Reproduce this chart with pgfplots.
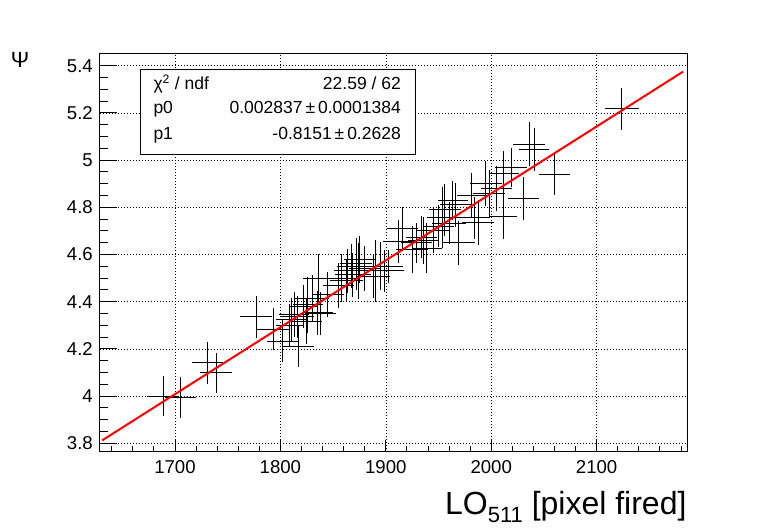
\documentclass[border=0pt]{standalone}
\usepackage{fontspec}
\setmainfont{Liberation Sans}
\usepackage{pgfplots}
\pgfplotsset{compat=1.18}
\usepackage{pgfplotstable}

\pgfplotstableread{
x y ex ey
1689 4.000 15.2 0.085
1705 3.993 14.6 0.087
1731 4.140 14.6 0.088
1739 4.098 14.9 0.085
1777 4.336 15.0 0.089
1793 4.284 14.8 0.089
1802 4.233 14.6 0.088
1817 4.212 14.8 0.088
1809 4.300 13.5 0.090
1811 4.325 15.0 0.092
1816 4.336 16.0 0.090
1813 4.345 14.0 0.095
1825 4.315 14.5 0.095
1835 4.352 14.5 0.092
1826 4.386 14.5 0.120
1830 4.414 16.0 0.100
1822 4.380 14.0 0.090
1838 4.350 14.8 0.092
1836 4.500 14.5 0.100
1845 4.430 15.0 0.095
1855 4.470 15.0 0.095
1858 4.500 15.0 0.100
1863 4.488 15.8 0.090
1864 4.530 13.0 0.095
1867.6 4.551 14.3 0.092
1868.6 4.513 17.0 0.092
1872 4.560 15.0 0.110
1875 4.580 15.0 0.100
1874 4.530 14.0 0.120
1880 4.540 15.0 0.095
1888 4.506 15.8 0.090
1890 4.530 14.0 0.130
1894.5 4.551 15.8 0.100
1898.7 4.530 19.0 0.090
1903 4.550 13.0 0.070
1912 4.654 14.5 0.090
1916 4.710 15.0 0.092
1925 4.620 15.0 0.100
1929 4.649 14.5 0.085
1934 4.673 14.5 0.090
1935.5 4.660 14.5 0.100
1939 4.627 14.5 0.105
1945 4.700 15.0 0.095
1950 4.720 15.0 0.090
1954 4.757 15.0 0.130
1956 4.790 15.0 0.110
1960 4.733 15.8 0.090
1963.5 4.828 14.3 0.082
1966 4.810 15.0 0.095
1969 4.649 15.8 0.092
1981.5 4.852 14.3 0.092
1983.7 4.755 15.0 0.090
1987.5 4.735 15.0 0.095
1995 4.900 15.0 0.095
1998 4.860 15.0 0.100
2005 4.880 15.0 0.095
2011.5 4.760 13.0 0.095
2012 4.944 14.3 0.095
2019 4.968 15.0 0.082
2030.5 4.838 14.8 0.090
2036 5.067 15.0 0.093
2040.6 5.046 14.3 0.092
2060 4.940 14.9 0.090
2124 5.217 16.0 0.090
}\datatable

\pgfplotstableread{
x y
1631 3.812
2182 5.375
}\fittable

\begin{document}
\begin{tikzpicture}[x=1pt,y=1pt]
\path[use as bounding box] (0,0) rectangle (764,532);
\pgfplotsset{
  rootframe/.style={
    at={(99.5pt,80.3pt)}, anchor=south west,
    width=587.5pt, height=398.7pt, scale only axis,
    xmin=1628.4, xmax=2185.7, ymin=3.764, ymax=5.454,
    axis line style={black, line width=0.9pt},
    tick style={black, line width=0.9pt},
    tick align=inside,
    xtick pos=bottom, ytick pos=left,
    /pgf/number format/assume math mode=true,
    tick label style={font=\fontsize{18.6}{20}\selectfont},
  }
}
\begin{axis}[rootframe,
  xtick={1700,1800,1900,2000,2100},
  minor xtick={1640,1660,...,2180},
  ytick={3.8,4,4.2,4.4,4.6,4.8,5,5.2,5.4},
  yticklabels={3.8,4,4.2,4.4,4.6,4.8,5,5.2,5.4},
  xticklabels={1700,1800,1900,2000,2100},
  minor ytick={3.8,3.85,...,5.45},
  major tick length=12pt, minor tick length=6pt,
  xmajorgrids, ymajorgrids,
  major grid style={black, line width=0.6pt, dash pattern=on 0.8pt off 2.2pt},
  xticklabel style={inner sep=0pt, anchor=north},
  xticklabel shift=8.3pt,
  yticklabel style={inner sep=0pt, anchor=east},
  yticklabel shift=6.5pt,
]
\addplot[only marks, mark=*, mark size=0pt, draw=black,
  error bars/.cd, x dir=both, x explicit, y dir=both, y explicit,
  error mark=none, error bar style={black, line width=1pt}]
  table[x=x, y=y, x error=ex, y error=ey] {\datatable};
\addplot[red, line width=2pt] table[x=x, y=y] {\fittable};
\end{axis}
\begin{axis}[rootframe,
  xtick=\empty, minor xtick={},
  ytick={3.8,4,4.2,4.4,4.6,4.8,5,5.2,5.4},
  yticklabels={},
  minor ytick={3.8,3.85,...,5.45},
  major tick length=17.6pt, minor tick length=8.8pt,
]
\end{axis}
% stats box
\draw[black, line width=0.9pt, fill=white] (140.7,377.7) rectangle (415.7,462.7);
\begin{scope}[every node/.style={inner sep=0pt, font=\fontsize{17.5}{19}\selectfont}]
\node[anchor=base west] at (153.3,442.7) {χ\textsuperscript{2} / ndf};
\node[anchor=base east] at (401,442.7) {22.59 / 62};
\node[anchor=base west] at (153.3,418) {p0};
\node[anchor=base east] at (401,418) {0.002837\,±\,0.0001384};
\node[anchor=base west] at (153.3,392.7) {p1};
\node[anchor=base east] at (401,392.7) {-0.8151\,±\,0.2628};
\end{scope}
% axis titles
\node[anchor=base east, inner sep=0pt, font=\fontsize{32}{34}\selectfont] at (686.7,17) {LO\raisebox{-0.22em}{\fontsize{22}{22}\selectfont 511} [pixel fired]};
\node[inner sep=0pt, font=\fontsize{22}{24}\selectfont] at (20,472) {Ψ};
\end{tikzpicture}
\end{document}
